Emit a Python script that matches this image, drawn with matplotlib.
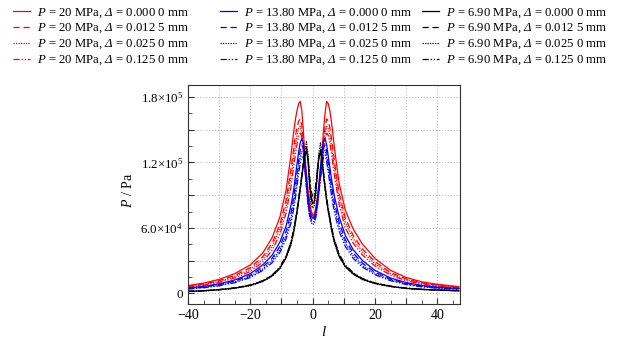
import matplotlib
matplotlib.use('Agg')
import numpy as np
import matplotlib.pyplot as plt
from matplotlib.ticker import MultipleLocator, FuncFormatter

plt.rcParams['font.family'] = ['Liberation Serif', 'DejaVu Serif']
plt.rcParams['mathtext.fontset'] = 'custom'
plt.rcParams['mathtext.rm'] = 'Liberation Serif'
plt.rcParams['mathtext.it'] = 'Liberation Serif:italic'
plt.rcParams['mathtext.sf'] = 'Liberation Serif:italic'   # used for the italic capital Delta
plt.rcParams['mathtext.bf'] = 'Liberation Serif:bold'
plt.rcParams['axes.unicode_minus'] = True

# position along the clearance, l
l = [-40, -35, -30, -25, -20, -16, -13, -10.5, -8.5, -7, -6.5, -6, -5.5, -5, -4.5, -4,
     -3.5, -3, -2.5, -2, -1.5, -1, -0.5, 0, 0.5, 1, 1.5, 2, 2.5, 3, 3.5, 4,
     4.5, 5, 5.5, 6, 6.5, 7, 8.5, 10.5, 13, 16, 20, 25, 30, 35, 40, 47]

# pressure, kPa  (P = 20 MPa)
p20_d0000 = [7.0, 9.3, 12.7, 18, 26, 37, 51, 70, 95, 126, 138, 150, 160, 168, 174, 176,
             168, 150, 126, 110, 96, 85, 76, 72, 72, 78, 88, 100, 114, 130, 150, 166,
             176, 174, 168, 158, 146, 133, 101, 76, 59, 45, 32, 21, 14.5, 10.5, 8.2, 6.0]
p20_d0125 = [6.4, 8.5, 11.6, 16.4, 23.5, 33.5, 46, 63, 86, 113, 124, 135, 145, 152, 158, 160,
             154, 139, 119, 105, 93, 83, 75, 71, 71, 77, 86, 97, 110, 124, 140, 153,
             160, 158, 152, 143, 132, 121, 92, 69, 53, 40.5, 29, 19, 13.2, 9.6, 7.5, 5.6]
p20_d0250 = [6.0, 8.0, 10.8, 15.3, 22, 31, 43, 59, 80, 106, 116, 127, 137, 145, 151, 153,
             148, 134, 116, 103, 91, 81, 74, 70, 70, 76, 85, 95, 107, 120, 135, 147,
             153, 151, 145, 136, 125, 115, 87, 65, 50, 38, 27, 18, 12.5, 9.1, 7.1, 5.3]
p20_d1250 = [5.5, 7.3, 9.9, 14, 20, 28.5, 39.5, 54, 74, 97, 107, 118, 128, 137, 144, 147,
             144, 131, 114, 101, 89, 79, 72, 69, 69, 74, 83, 93, 105, 117, 131, 142,
             147, 145, 138, 129, 118, 108, 81, 60, 46, 35, 25, 16.5, 11.5, 8.4, 6.6, 5.0]

# P = 13.80 MPa
p138_d0000 = [4.8, 6.3, 8.6, 12.2, 18, 26, 35, 47, 62, 80, 88, 97, 108, 119, 130, 138,
              142, 138, 124, 104, 88, 77, 71, 69, 70, 75, 85, 99, 115, 130, 140, 142,
              136, 126, 116, 106, 97, 89, 70, 53, 40, 30, 21, 14, 9.8, 7.2, 5.6, 4.3]
p138_d0125 = [4.4, 5.8, 7.9, 11.2, 16.5, 24, 32, 43, 57, 73, 81, 90, 100, 111, 122, 131,
              136, 133, 120, 101, 85, 74, 68, 66, 67, 72, 82, 96, 111, 125, 134, 136,
              130, 120, 110, 100, 91, 83, 65, 49, 37, 27.5, 19.3, 13, 9.1, 6.7, 5.2, 4.0]
p138_d0250 = [4.1, 5.4, 7.3, 10.4, 15.4, 22.3, 30, 40, 53, 68, 76, 84, 94, 105, 116, 125,
              130, 128, 116, 98, 82, 71, 65, 63, 64, 69, 79, 93, 108, 121, 129, 131,
              125, 115, 105, 95, 86, 78, 61, 46, 34.5, 25.5, 18, 12.2, 8.5, 6.3, 4.9, 3.8]
p138_d1250 = [3.8, 5.0, 6.8, 9.7, 14.4, 21, 28, 37.5, 50, 64, 71, 79, 88, 99, 110, 119,
              125, 125, 114, 97, 82, 72, 67, 65, 66, 70, 79, 92, 106, 118, 125, 127,
              121, 111, 101, 91, 82, 74, 57, 43, 32, 24, 17, 11.5, 8.0, 5.9, 4.6, 3.6]

# P = 6.90 MPa
p69_d0000 = [1.6, 2.2, 3.2, 4.7, 7.2, 11, 16, 23, 33, 45, 51, 58, 66, 75, 85, 95,
             106, 117, 126, 131, 122, 101, 87, 82, 84, 93, 109, 124, 130, 122, 108, 96,
             85, 76, 68, 60, 53, 47, 34, 24.5, 17.8, 12.8, 9.0, 6.2, 4.5, 3.5, 2.9, 2.2]
p69_d0125 = [1.7, 2.3, 3.3, 4.8, 7.4, 11.3, 16.4, 23.6, 34, 46, 52, 59, 67, 76, 86, 97,
             108, 119, 129, 134, 125, 104, 89, 84, 86, 95, 111, 126, 132, 124, 110, 97,
             86, 77, 69, 61, 54, 48, 35, 25, 18.2, 13.1, 9.2, 6.4, 4.6, 3.6, 3.0, 2.3]
p69_d0250 = [1.5, 2.1, 3.1, 4.6, 7.0, 10.7, 15.6, 22.5, 32.5, 44, 50, 57, 65, 74, 84, 95,
             107, 119, 131, 139, 128, 100, 83, 78, 80, 90, 110, 129, 138, 128, 111, 97,
             85, 75, 67, 59, 52, 46, 33.5, 24, 17.4, 12.5, 8.8, 6.1, 4.4, 3.4, 2.8, 2.2]
p69_d1250 = [1.8, 2.4, 3.4, 5.0, 7.6, 11.6, 16.8, 24, 34.5, 46.5, 53, 60, 68, 77, 87, 97,
             108, 118, 126, 131, 125, 108, 94, 89, 91, 99, 114, 126, 130, 123, 110, 98,
             87, 78, 70, 62, 55, 49, 36, 26, 18.8, 13.5, 9.5, 6.6, 4.8, 3.7, 3.1, 2.4]

pressures = ['20', '13.80', '6.90']
gaps = ['0.000 0', '0.012 5', '0.025 0', '0.125 0']
groups = [
    [p20_d0000, p20_d0125, p20_d0250, p20_d1250],
    [p138_d0000, p138_d0125, p138_d0250, p138_d1250],
    [p69_d0000, p69_d0125, p69_d0250, p69_d1250],
]
colors = ['#ff0000', '#0000ff', '#000000']
styles = ['-', (0, (5, 3)), (0, (1, 1)), (0, (5, 1.5, 1, 1.5, 1, 1.5))]

fig = plt.figure(figsize=(6.31, 3.46), dpi=100)
ax = fig.add_axes([0.298, 0.121, 0.431, 0.633])

x = np.array(l)
handles = []
for gi, grp in enumerate(groups):
    hs = []
    for si, vals in enumerate(grp):
        lab = r'$P$ = %s MPa, $\mathsf{\Delta}$ = %s mm' % (pressures[gi], gaps[si])
        h, = ax.plot(x, np.array(vals) * 1e3, color=colors[gi], linestyle=styles[si],
                     linewidth=0.9, label=lab)
        hs.append(h)
    handles.append(hs)

ax.set_xlim(-40, 47.3)
ax.set_ylim(-1.0e4, 1.91e5)

ax.xaxis.set_major_locator(MultipleLocator(10))
ax.xaxis.set_minor_locator(MultipleLocator(5))
ax.xaxis.set_major_formatter(FuncFormatter(
    lambda v, p: ('%d' % v).replace('-', '\u2212') if round(v) % 20 == 0 else ''))

ylabs = {0: '0', 60000: r'$6.0{\times}10^4$', 120000: r'$1.2{\times}10^5$',
         180000: r'$1.8{\times}10^5$'}
ax.yaxis.set_major_locator(MultipleLocator(3e4))
ax.yaxis.set_minor_locator(MultipleLocator(1.5e4))
ax.yaxis.set_major_formatter(FuncFormatter(lambda v, p: ylabs.get(int(round(v)), '')))

ax.tick_params(which='both', direction='in', color='#333333')
ax.tick_params(axis='x', labelsize=10)
ax.tick_params(axis='y', labelsize=9.3)
ax.tick_params(which='major', length=4)
ax.tick_params(which='minor', length=3)
ax.grid(True, which='major', linestyle=':', color='#bbbbbb', linewidth=0.8)
ax.set_axisbelow(True)
for s in ax.spines.values():
    s.set_color('#333333')

ax.set_xlabel(r'$l$', fontsize=11, labelpad=2)
ax.set_ylabel(r'$P$ / Pa', fontsize=10)
ax.yaxis.set_label_coords(-0.195, 0.52)

# legend: three columns placed across the top
xs = [13 / 631, 220 / 631, 422 / 631]
for gi in range(3):
    fig.legend(handles=handles[gi], loc='upper left', bbox_to_anchor=(xs[gi], 1 - 6 / 346),
               frameon=False, fontsize=9.2, borderpad=0, borderaxespad=0,
               handlelength=1.35, handletextpad=0.5, labelspacing=0.19)

fig.savefig('out.png', dpi=100)
